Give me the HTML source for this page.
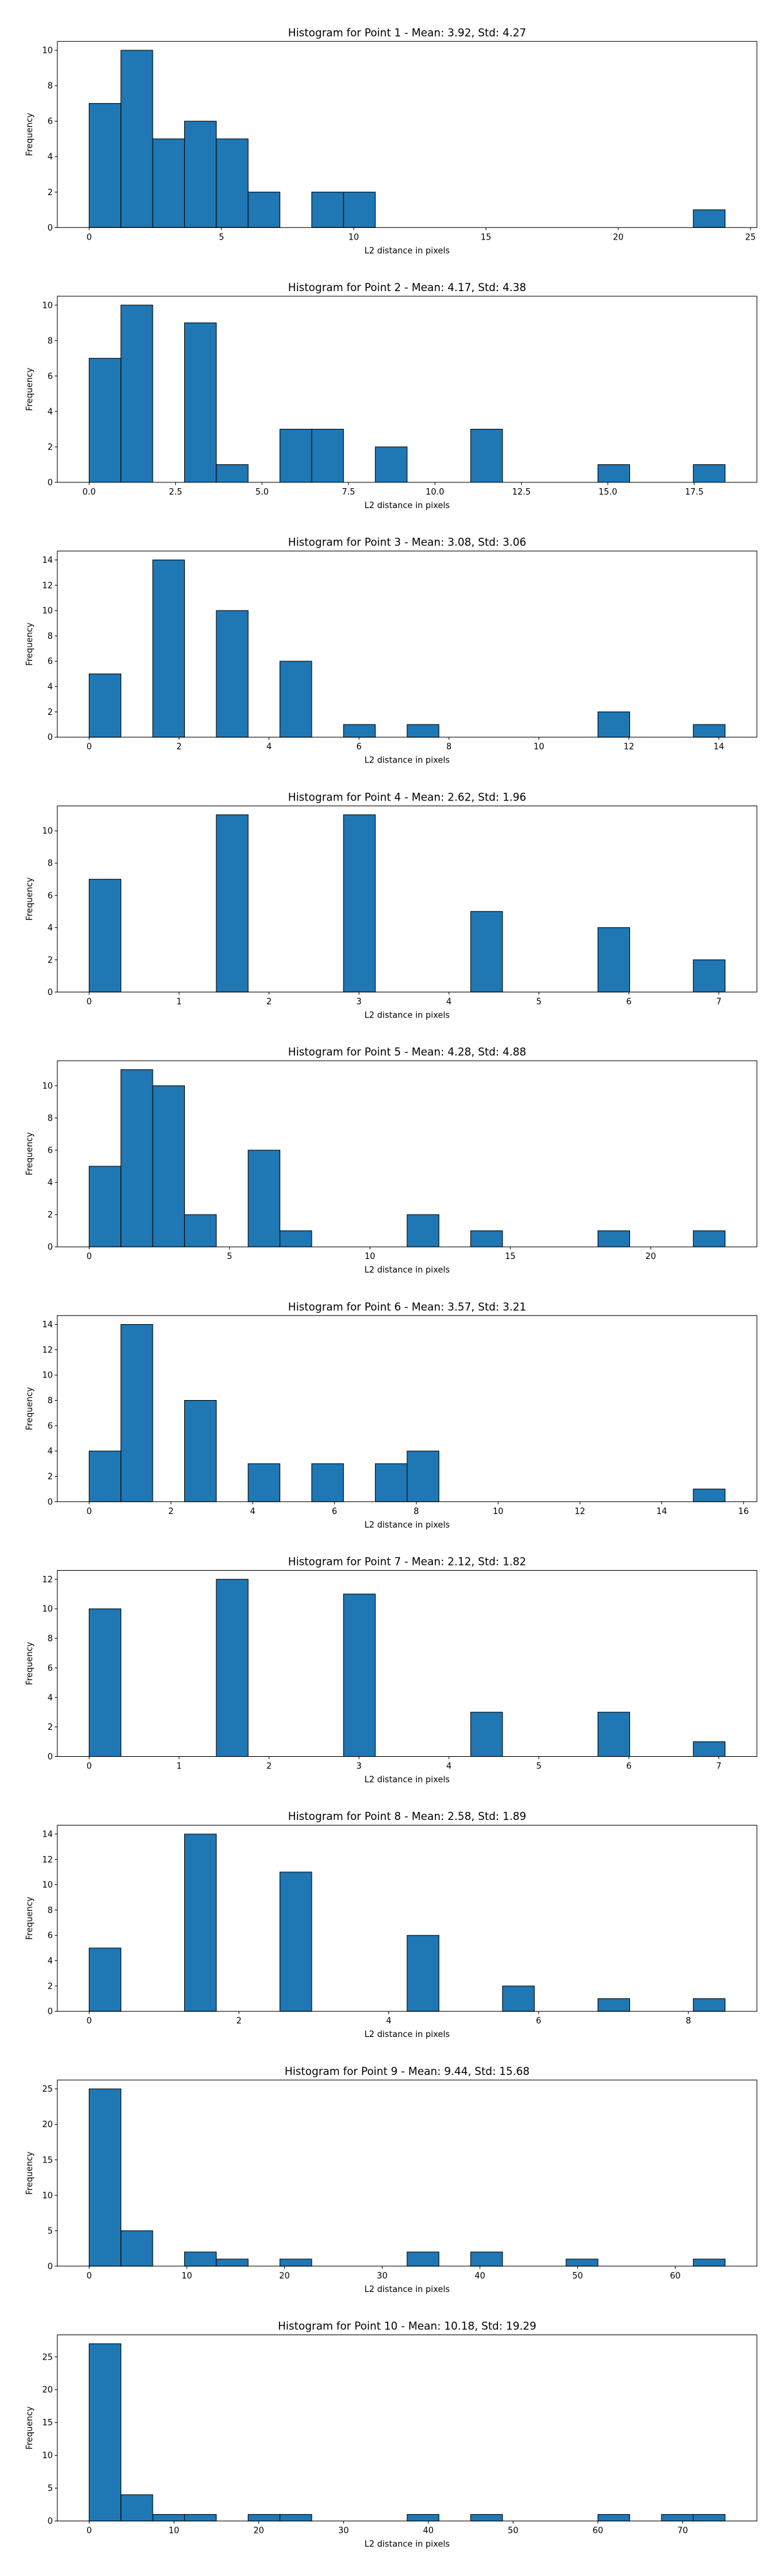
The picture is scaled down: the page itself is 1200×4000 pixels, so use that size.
<!DOCTYPE html>
<html><head><meta charset="utf-8">
<style>
html,body{margin:0;padding:0;background:#fff;}
svg{display:block;font-family:"DejaVu Sans","Liberation Sans",sans-serif;}
</style></head>
<body>
<svg id="fig" width="1200" height="4000" viewBox="0 0 1200 4000" xmlns="http://www.w3.org/2000/svg"></svg>
<script>
const titles = [
 "Histogram for Point 1 - Mean: 3.92, Std: 4.27",
 "Histogram for Point 2 - Mean: 4.17, Std: 4.38",
 "Histogram for Point 3 - Mean: 3.08, Std: 3.06",
 "Histogram for Point 4 - Mean: 2.62, Std: 1.96",
 "Histogram for Point 5 - Mean: 4.28, Std: 4.88",
 "Histogram for Point 6 - Mean: 3.57, Std: 3.21",
 "Histogram for Point 7 - Mean: 2.12, Std: 1.82",
 "Histogram for Point 8 - Mean: 2.58, Std: 1.89",
 "Histogram for Point 9 - Mean: 9.44, Std: 15.68",
 "Histogram for Point 10 - Mean: 10.18, Std: 19.29"
];
const binMax = [24.04, 18.39, 14.14, 7.07, 22.65, 15.55, 7.07, 8.49, 65.1, 75.0];
const counts1 = [7,10,5,6,5,2,0,2,2,0,0,0,0,0,0,0,0,0,0,1];
const counts2 = [7,10,0,9,1,0,3,3,0,2,0,0,3,0,0,0,1,0,0,1];
const counts3 = [5,0,14,0,10,0,6,0,1,0,1,0,0,0,0,0,2,0,0,1];
const counts4 = [7,0,0,0,11,0,0,0,11,0,0,0,5,0,0,0,4,0,0,2];
const counts5 = [5,11,10,2,0,6,1,0,0,0,2,0,1,0,0,0,1,0,0,1];
const counts6 = [4,14,0,8,0,3,0,3,0,3,4,0,0,0,0,0,0,0,0,1];
const counts7 = [10,0,0,0,12,0,0,0,11,0,0,0,3,0,0,0,3,0,0,1];
const counts8 = [5,0,0,14,0,0,11,0,0,0,6,0,0,2,0,0,1,0,0,1];
const counts9 = [25,5,0,2,1,0,1,0,0,0,2,0,2,0,0,1,0,0,0,1];
const counts10 = [27,4,1,1,0,1,1,0,0,0,1,0,1,0,0,0,1,0,1,1];
const allCounts = [counts1,counts2,counts3,counts4,counts5,counts6,counts7,counts8,counts9,counts10];
const xTicks = [
 [0,5,10,15,20,25],
 [0,2.5,5,7.5,10,12.5,15,17.5],
 [0,2,4,6,8,10,12,14],
 [0,1,2,3,4,5,6,7],
 [0,5,10,15,20],
 [0,2,4,6,8,10,12,14,16],
 [0,1,2,3,4,5,6,7],
 [0,2,4,6,8],
 [0,10,20,30,40,50,60],
 [0,10,20,30,40,50,60,70]
];
const xTickLabels = [
 ["0","5","10","15","20","25"],
 ["0.0","2.5","5.0","7.5","10.0","12.5","15.0","17.5"],
 ["0","2","4","6","8","10","12","14"],
 ["0","1","2","3","4","5","6","7"],
 ["0","5","10","15","20"],
 ["0","2","4","6","8","10","12","14","16"],
 ["0","1","2","3","4","5","6","7"],
 ["0","2","4","6","8"],
 ["0","10","20","30","40","50","60"],
 ["0","10","20","30","40","50","60","70"]
];
const yTicks = [
 [0,2,4,6,8,10],
 [0,2,4,6,8,10],
 [0,2,4,6,8,10,12,14],
 [0,2,4,6,8,10],
 [0,2,4,6,8,10],
 [0,2,4,6,8,10,12,14],
 [0,2,4,6,8,10,12],
 [0,2,4,6,8,10,12,14],
 [0,5,10,15,20,25],
 [0,5,10,15,20,25]
];

const NS = "http://www.w3.org/2000/svg";
const svg = document.getElementById('fig');
const AX_L = 89, AX_R = 1175, AX_H = 289, TOP0 = 64.3, STEP = 395.7;
function mk(tag, attrs, parent){
  const e = document.createElementNS(NS, tag);
  for (const k in attrs) e.setAttribute(k, attrs[k]);
  parent.appendChild(e);
  return e;
}
for (let p = 0; p < 10; p++) {
  const top = TOP0 + STEP * p, bot = top + AX_H;
  const counts = allCounts[p];
  const nb = counts.length;
  const lo = 0, hi = binMax[p];
  const pad = (hi - lo) * 0.05;
  const x = v => AX_L + (v - (lo - pad)) / ((hi + pad) - (lo - pad)) * (AX_R - AX_L);
  const ymax = Math.max(...counts) * 1.05;
  const y = v => bot - v / ymax * AX_H;

  const g = mk('g', {}, svg);
  
  

  const t = mk('text', {x: (AX_L+AX_R)/2, y: top - 8, 'text-anchor':'middle', 'font-size':'16.5'}, g);
  
  
  t.textContent = titles[p];

  const bw = (hi - lo) / nb;
  counts.forEach((c, i) => {
    if (c <= 0) return;
    const x0 = x(lo + i*bw), x1 = x(lo + (i+1)*bw);
    const r = mk('rect', {x: x0, y: y(c), width: x1-x0, height: bot - y(c), fill:'#1f77b4', stroke:'#000', 'stroke-width':'1'}, g);
    
    
  });

  const frame = mk('rect', {x: AX_L, y: top, width: AX_R-AX_L, height: AX_H, fill:'none', stroke:'#000', 'stroke-width':'1'}, g);
  
  

  xTicks[p].forEach((v, i) => {
    const px = x(v);
    mk('line', {x1:px, x2:px, y1:bot, y2:bot+4, stroke:'#000', 'stroke-width':'1'}, g);
    const tl = mk('text', {x:px, y:bot+19, 'text-anchor':'middle', 'font-size':'13'}, g);
    
    
    tl.textContent = xTickLabels[p][i];
  });
  yTicks[p].forEach(v => {
    const py = y(v);
    mk('line', {x1:AX_L-4, x2:AX_L, y1:py, y2:py, stroke:'#000', 'stroke-width':'1'}, g);
    const tl = mk('text', {x:AX_L-7, y:py+4.5, 'text-anchor':'end', 'font-size':'13'}, g);
    
    
    tl.textContent = String(v);
  });

  const xl = mk('text', {x:(AX_L+AX_R)/2, y:bot+40, 'text-anchor':'middle', 'font-size':'13'}, g);
  
  
  xl.textContent = 'L2 distance in pixels';

  const yl = mk('text', {x:0, y:0, 'text-anchor':'middle', 'font-size':'13', transform:'translate(50,' + (top+AX_H/2) + ') rotate(-90)'}, g);
  
  
  yl.textContent = 'Frequency';
}
</script>
</body></html>
